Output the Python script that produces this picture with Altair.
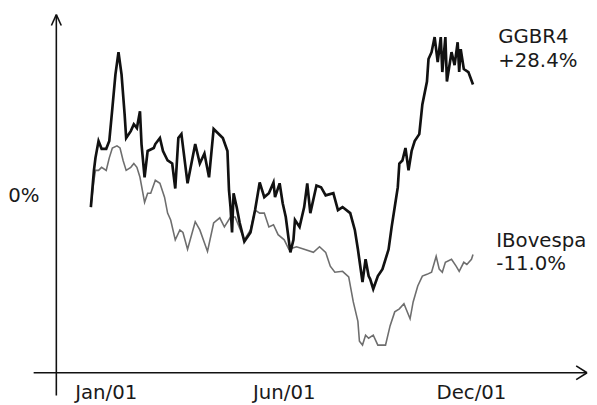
import altair as alt
import pandas as pd

# ---- data (trading-day index, % change since start) ----
ggbr4_day = [0, 2, 3, 5, 7, 10, 12, 14, 16, 18, 20, 22, 23, 26, 28, 30, 32, 33, 35, 37,
             41, 42, 45, 47, 50, 53, 55, 57, 59, 63, 68, 71, 74, 77, 80, 86, 89, 90, 91, 92,
             93, 95, 97, 100, 104, 107, 110, 113, 116, 119, 120, 123, 125, 127, 130, 132, 133, 136, 139, 141,
             143, 147, 150, 153, 158, 161, 164, 169, 172, 174, 177, 179, 181, 182, 184, 187, 190, 194, 196, 198,
             200, 201, 203, 205, 207, 209, 211, 214, 216, 219, 220, 222, 224, 226, 228, 229, 231, 232, 235, 237,
             239, 240, 241, 243, 246, 249]
ggbr4_pct = [0.0, 8.5, 11.4, 15.3, 13.5, 13.5, 15.3, 22.9, 30.7, 35.9, 30.7, 21.5, 16.0, 17.6, 19.2, 18.3, 22.2, 14.6, 6.9, 13.0,
             13.7, 14.6, 16.0, 13.0, 10.8, 10.1, 4.3, 16.0, 16.9, 5.5, 14.6, 10.1, 12.4, 6.9, 18.1, 16.0, 13.0, 3.9, 0.0, -5.9,
             3.2, 0.0, -3.7, -8.0, -5.9, -0.7, 5.7, 2.3, 3.2, 5.7, 2.3, 5.5, 0.9, -2.3, -10.5, -7.6, -3.0, -4.6, 0.0, 5.5,
             -1.4, 5.0, 4.6, 2.7, 3.2, -0.7, 0.0, -1.4, -5.3, -9.8, -17.4, -12.1, -16.0, -16.7, -19.0, -16.0, -14.4, -9.8, -4.6, 0.0,
             4.6, 10.1, 10.8, 13.7, 8.5, 13.0, 15.3, 16.9, 23.8, 29.1, 34.3, 35.9, 39.4, 33.6, 39.4, 31.3, 39.4, 29.1, 35.9, 32.9,
             38.2, 31.3, 36.6, 32.0, 31.3, 28.4]

ibov_day = [0, 2, 3, 5, 7, 10, 12, 14, 17, 19, 21, 23, 26, 28, 30, 32, 35, 37, 39, 42,
            45, 48, 50, 52, 55, 58, 60, 63, 68, 71, 76, 80, 84, 87, 91, 94, 100, 104, 107, 110,
            113, 116, 119, 122, 126, 129, 134, 139, 145, 149, 153, 156, 159, 164, 168, 171, 174, 175, 177, 179,
            181, 184, 187, 192, 195, 198, 201, 204, 208, 210, 213, 216, 219, 222, 225, 227, 229, 231, 235, 238,
            240, 243, 245, 248, 249]
ibov_pct = [0.0, 6.2, 8.5, 8.5, 9.2, 8.5, 11.4, 13.7, 14.2, 13.7, 10.8, 8.5, 9.2, 10.1, 9.2, 6.9, 1.1, 3.2, 3.2, 6.2,
            5.5, 2.3, -1.4, -3.0, -7.6, -5.3, -5.9, -9.8, -3.4, -5.3, -10.3, -3.7, -2.5, -4.6, -2.3, -2.3, -7.6, -5.3, -0.7, -1.4,
            -1.4, -4.6, -4.1, -6.4, -7.6, -9.8, -9.2, -9.8, -10.5, -9.2, -10.5, -13.7, -15.1, -14.9, -16.2, -22.0, -26.5, -31.1, -32.0, -29.7,
            -30.4, -29.7, -32.0, -32.0, -27.5, -24.3, -23.6, -22.4, -25.9, -22.0, -18.3, -16.0, -15.6, -15.1, -11.4, -14.4, -15.1, -12.8, -12.1, -13.7,
            -14.9, -12.8, -13.3, -12.1, -11.0]

tick_labels = ["Jan/01", "Jun/01", "Dec/01"]
tick_days = [10, 126, 248]
zero_label = ["0%"]

FONT = "DejaVu Sans"
FS = 20
W, H = 538, 363

xscale = alt.Scale(domain=[-22.5, 323.3], nice=False, zero=False)
yscale = alt.Scale(domain=[-38.4, 44.6], nice=False, zero=False)

g = pd.DataFrame({"day": ggbr4_day, "pct": ggbr4_pct})
b = pd.DataFrame({"day": ibov_day, "pct": ibov_pct})
one = pd.DataFrame({"a": [0]})

line_i = alt.Chart(b).mark_line(color="#6e6e6e", strokeWidth=1.6).encode(
    x=alt.X("day:Q", scale=xscale, axis=None),
    y=alt.Y("pct:Q", scale=yscale, axis=None),
)
line_g = alt.Chart(g).mark_line(color="#111111", strokeWidth=2.7).encode(
    x=alt.X("day:Q", scale=xscale, axis=None),
    y=alt.Y("pct:Q", scale=yscale, axis=None),
)

AX = dict(color="#111111", strokeWidth=1.6)
yaxis = alt.Chart(one).mark_rule(**AX).encode(x=alt.value(0), y=alt.value(0), y2=alt.value(386))
xaxis = alt.Chart(one).mark_rule(**AX).encode(x=alt.value(-23), x2=alt.value(538), y=alt.value(363))
ya1 = alt.Chart(one).mark_rule(**AX).encode(x=alt.value(0), x2=alt.value(-5), y=alt.value(0), y2=alt.value(11))
ya2 = alt.Chart(one).mark_rule(**AX).encode(x=alt.value(0), x2=alt.value(5), y=alt.value(0), y2=alt.value(11))
xa1 = alt.Chart(one).mark_rule(**AX).encode(x=alt.value(538), x2=alt.value(527), y=alt.value(363), y2=alt.value(356))
xa2 = alt.Chart(one).mark_rule(**AX).encode(x=alt.value(538), x2=alt.value(527), y=alt.value(363), y2=alt.value(370))

TXT = dict(font=FONT, fontSize=FS, color="#1a1a1a", baseline="alphabetic")

ticks = alt.Chart(pd.DataFrame({"day": tick_days, "t": tick_labels})).mark_text(align="center", **TXT).encode(
    x=alt.X("day:Q", scale=xscale, axis=None), y=alt.value(390), text="t:N")

zero = alt.Chart(pd.DataFrame({"pct": [0.0], "t": zero_label})).mark_text(align="right", dy=-5, **TXT).encode(
    x=alt.value(-17), y=alt.Y("pct:Q", scale=yscale, axis=None), text="t:N")

lab1 = alt.Chart(one).mark_text(align="left", text="GGBR4", **TXT).encode(x=alt.value(448), y=alt.value(29))
lab2 = alt.Chart(one).mark_text(align="left", text="+28.4%", **TXT).encode(x=alt.value(448), y=alt.value(53))
lab3 = alt.Chart(one).mark_text(align="left", text="IBovespa", **TXT).encode(x=alt.value(446), y=alt.value(236))
lab4 = alt.Chart(one).mark_text(align="left", text="-11.0%", **TXT).encode(x=alt.value(446), y=alt.value(259))

chart = alt.layer(
    yaxis, xaxis, ya1, ya2, xa1, xa2, line_i, line_g, ticks, zero, lab1, lab2, lab3, lab4
).properties(
    width=W, height=H,
    autosize=alt.AutoSizeParams(type="none"),
    padding={"left": 49, "top": 4, "right": 2, "bottom": 30},
    background="white",
).configure_view(stroke=None)

chart.save("out.html", embed_options={"renderer": "svg", "actions": False})
